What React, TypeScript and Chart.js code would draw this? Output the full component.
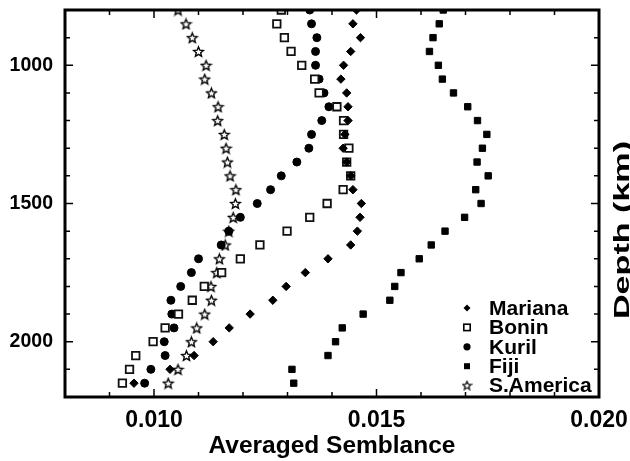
import React, { useEffect, useRef } from "react";
import { Chart, registerables } from "chart.js";

Chart.register(...registerables);

const depths = [800, 850, 900, 950, 1000, 1050, 1100, 1150, 1200, 1250, 1300, 1350, 1400, 1450,
  1500, 1550, 1600, 1650, 1700, 1750, 1800, 1850, 1900, 1950, 2000, 2050, 2100, 2150];

const mariana = [0.01455, 0.01447, 0.01464, 0.01442, 0.01426, 0.01420, 0.01433, 0.01436, 0.01436, 0.01429,
  0.01425, 0.01433, 0.01442, 0.01447, 0.01466, 0.01463, 0.01457, 0.01442, 0.01391, 0.01340,
  0.01297, 0.01267, 0.01216, 0.01169, 0.01133, 0.01090, 0.01036, 0.00955];

const bonin = [0.01286, 0.01276, 0.01293, 0.01308, 0.01332, 0.01361, 0.01371, 0.01411, 0.01426, 0.01426,
  0.01438, 0.01433, 0.01442, 0.01425, 0.01389, 0.01350, 0.01299, 0.01238, 0.01194, 0.01152,
  0.01113, 0.01086, 0.01055, 0.01025, 0.00998, 0.00959, 0.00945, 0.00929];

const kuril = [0.01350, 0.01354, 0.01366, 0.01363, 0.01363, 0.01371, 0.01382, 0.01393, 0.01377, 0.01354,
  0.01348, 0.01321, 0.01286, 0.01262, 0.01232, 0.01194, 0.01168, 0.01151, 0.01100, 0.01084,
  0.01060, 0.01038, 0.01040, 0.01045, 0.01023, 0.01025, 0.00993, 0.00979];

const fiji = [0.01650, 0.01641, 0.01627, 0.01619, 0.01639, 0.01648, 0.01673, 0.01705, 0.01727, 0.01748,
  0.01738, 0.01726, 0.01751, 0.01723, 0.01735, 0.01698, 0.01654, 0.01623, 0.01596, 0.01555,
  0.01541, 0.01530, 0.01470, 0.01423, 0.01408, 0.01391, 0.01310, 0.01314];

const sAmerica = [0.01054, 0.01072, 0.01086, 0.01100, 0.01117, 0.01114, 0.01129, 0.01144, 0.01143, 0.01158,
  0.01162, 0.01165, 0.01171, 0.01184, 0.01183, 0.01178, 0.01168, 0.01160, 0.01147, 0.01141,
  0.01128, 0.01129, 0.01114, 0.01096, 0.01084, 0.01073, 0.01054, 0.01032];

const seriesNames = ["Mariana", "Bonin", "Kuril", "Fiji", "S.America"];
const xMajorTicks = [0.010, 0.015, 0.020];
const yMajorTicks = [1000, 1500, 2000];
const xTitle = "Averaged Semblance";
const yTitle = "Depth (km)";

const FONT = '"Liberation Sans", Arial, Helvetica, sans-serif';

function makeStar(size: number, R: number, lw: number): HTMLCanvasElement {
  const c = document.createElement("canvas");
  c.width = size;
  c.height = size;
  const g = c.getContext("2d")!;
  const cx = size / 2;
  const cy = size / 2 + 0.6;
  const r = R * 0.45;
  g.beginPath();
  for (let i = 0; i < 10; i++) {
    const ang = -Math.PI / 2 + (i * Math.PI) / 5;
    const rad = i % 2 === 0 ? R : r;
    const px = cx + rad * Math.cos(ang);
    const py = cy + rad * Math.sin(ang);
    if (i === 0) g.moveTo(px, py);
    else g.lineTo(px, py);
  }
  g.closePath();
  g.fillStyle = "#fff";
  g.fill();
  g.lineWidth = lw;
  g.lineJoin = "miter";
  g.strokeStyle = "#000";
  g.stroke();
  return c;
}

function isMajor(v: number, majors: number[]) {
  return majors.some((m) => Math.abs(m - v) < 1e-9 * Math.max(1, Math.abs(m)) + 1e-7);
}

const framePlugin = {
  id: "frameTicksLegend",
  afterDraw(chart: any) {
    const { ctx, chartArea: a, scales } = chart;
    const xs = scales.x;
    const ys = scales.y;
    ctx.save();
    ctx.strokeStyle = "#000";
    ctx.lineWidth = 1.5;
    xs.ticks.forEach((t: any) => {
      const px = xs.getPixelForValue(t.value);
      const len = isMajor(t.value, xMajorTicks) ? 8 : 5;
      ctx.beginPath();
      ctx.moveTo(px, a.bottom);
      ctx.lineTo(px, a.bottom - len);
      ctx.moveTo(px, a.top);
      ctx.lineTo(px, a.top + len);
      ctx.stroke();
    });
    ys.ticks.forEach((t: any) => {
      const py = ys.getPixelForValue(t.value);
      const len = isMajor(t.value, yMajorTicks) ? 8 : 5;
      ctx.beginPath();
      ctx.moveTo(a.left, py);
      ctx.lineTo(a.left + len, py);
      ctx.moveTo(a.right, py);
      ctx.lineTo(a.right - len, py);
      ctx.stroke();
    });
    ctx.lineWidth = 3;
    ctx.strokeRect(a.left, a.top, a.right - a.left, a.bottom - a.top);

    // legend
    const lx = a.right - 132;
    const tx = a.right - 110;
    const y0 = a.bottom - 89;
    const dy = 19.4;
    ctx.font = `bold 21px ${FONT}`;
    ctx.textBaseline = "middle";
    ctx.textAlign = "left";
    chart.data.datasets.forEach((ds: any, i: number) => {
      const cy = y0 + i * dy;
      ctx.fillStyle = "#000";
      ctx.strokeStyle = "#000";
      ctx.lineWidth = 1;
      const ps = ds.pointStyle;
      if (ps === "rectRot") {
        ctx.beginPath();
        ctx.moveTo(lx - 3.5, cy);
        ctx.lineTo(lx, cy - 3.5);
        ctx.lineTo(lx + 3.5, cy);
        ctx.lineTo(lx, cy + 3.5);
        ctx.closePath();
        ctx.fill();
      } else if (ps === "circle") {
        ctx.beginPath();
        ctx.arc(lx, cy, 3.6, 0, Math.PI * 2);
        ctx.fill();
      } else if (ps === "rect" && ds.backgroundColor === "#fff") {
        ctx.lineWidth = 1.6;
        ctx.fillStyle = "#fff";
        ctx.fillRect(lx - 3.2, cy - 3.2, 6.4, 6.4);
        ctx.strokeRect(lx - 3.2, cy - 3.2, 6.4, 6.4);
      } else if (ps === "rect") {
        ctx.fillRect(lx - 3, cy - 3, 6, 6);
      } else if (ps instanceof HTMLCanvasElement) {
        const s = makeStar(11, 4.4, 1.2);
        ctx.drawImage(s, lx - s.width / 2, cy - s.height / 2 - 0.5);
      }
      ctx.fillStyle = "#000";
      ctx.fillText(ds.label, tx, cy + 1);
    });

    // right-side axis title (stretched along its direction, as in the reference)
    ctx.save();
    ctx.translate(629, 230);
    ctx.rotate(-Math.PI / 2);
    ctx.scale(1.55, 1);
    ctx.font = `bold 22px ${FONT}`;
    ctx.textAlign = "center";
    ctx.textBaseline = "alphabetic";
    ctx.fillStyle = "#000";
    ctx.fillText(yTitle, 0, 0);
    ctx.restore();

    ctx.restore();
  },
};

export default function App() {
  const ref = useRef<HTMLCanvasElement>(null);
  useEffect(() => {
    if (!ref.current) return;
    const star = makeStar(13, 5.2, 1.4);
    const toPts = (vals: number[]) => vals.map((v, i) => ({ x: v, y: depths[i] }));
    const chart = new Chart(ref.current, {
      type: "scatter",
      data: {
        datasets: [
          { label: seriesNames[0], data: toPts(mariana), pointStyle: "rectRot", pointRadius: 4.2, backgroundColor: "#000", borderColor: "#000", borderWidth: 1, clip: 0 } as any,
          { label: seriesNames[1], data: toPts(bonin), pointStyle: "rect", pointRadius: 5.3, backgroundColor: "#fff", borderColor: "#111", borderWidth: 1.8, clip: 0 } as any,
          { label: seriesNames[2], data: toPts(kuril), pointStyle: "circle", pointRadius: 4, backgroundColor: "#000", borderColor: "#000", borderWidth: 1, clip: 0 } as any,
          { label: seriesNames[3], data: toPts(fiji), pointStyle: "rect", pointRadius: 4.5, backgroundColor: "#000", borderColor: "#000", borderWidth: 1, clip: 0 } as any,
          { label: seriesNames[4], data: toPts(sAmerica), pointStyle: star, pointRadius: 6, backgroundColor: "#fff", borderColor: "#000", borderWidth: 1, clip: 0 } as any,
        ],
      },
      options: {
        responsive: false,
        animation: false,
        events: [],
        layout: { padding: { top: 10, right: 31, left: 0, bottom: 0 } },
        plugins: {
          legend: { display: false },
          tooltip: { enabled: false },
        },
        scales: {
          x: {
            type: "linear",
            min: 0.008,
            max: 0.020,
            grid: { display: false, drawTicks: false },
            border: { display: false },
            ticks: {
              stepSize: 0.001,
              autoSkip: false,
              maxRotation: 0,
              padding: 10,
              color: "#000",
              font: { family: FONT, size: 23, weight: "bold" },
              callback: (v: any) => (isMajor(Number(v), xMajorTicks) ? Number(v).toFixed(3) : ""),
            },
            title: {
              display: true,
              text: xTitle,
              color: "#000",
              font: { family: FONT, size: 24.5, weight: "bold" },
              padding: { top: 0, bottom: 0 },
            },
            afterFit: (s: any) => {
              s.height = 64;
              s.paddingLeft = 0;
              s.paddingRight = 0;
            },
          },
          y: {
            type: "linear",
            reverse: true,
            min: 800,
            max: 2200,
            grid: { display: false, drawTicks: false },
            border: { display: false },
            ticks: {
              stepSize: 100,
              autoSkip: false,
              padding: 12,
              color: "#000",
              font: { family: FONT, size: 19.5, weight: "bold" },
              callback: (v: any) => (isMajor(Number(v), yMajorTicks) ? String(v) : ""),
            },
            afterFit: (s: any) => {
              s.width = 65;
              s.paddingTop = 0;
              s.paddingBottom = 0;
            },
          },
        },
      },
      plugins: [framePlugin],
    } as any);
    return () => chart.destroy();
  }, []);
  return (
    <div style={{ position: "absolute", left: 0, top: 0, width: 630, height: 461, background: "#fff" }}>
      <canvas ref={ref} width={630} height={461} style={{ display: "block" }} />
    </div>
  );
}
